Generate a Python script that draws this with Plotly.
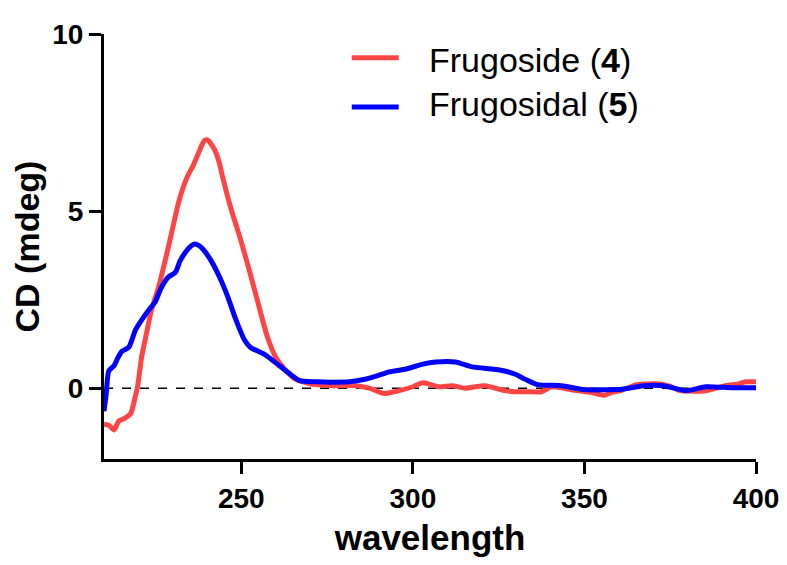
import plotly.graph_objects as go

# Frugoside (4) - red
red_x = [210, 211.5, 212.9, 214.3, 216, 217.8, 218.6, 219.2, 219.8, 221, 222.5, 223.8, 225.9,
         228.7, 231.6, 233, 234.5, 235.8, 236.8, 237.8, 238.6, 239.4, 240.3, 241.3, 242.3,
         243.5, 244.6, 246.9, 249.8, 252.7, 254.5, 256, 257.6, 260, 262.5, 265.4, 270, 276.9,
         283.5, 287.3, 291.6, 296, 300, 302.9, 307.5, 311.5, 315.3, 321, 326.8, 329.7, 333,
         337.5, 340.4, 344, 347.9, 352, 355.7, 358, 360.6, 365.2, 368, 372.1, 375, 377.9,
         385.4, 391.1, 395, 397, 400]
red_y = [-1.02, -1.05, -1.18, -0.93, -0.85, -0.71, -0.45, -0.2, 0.05, 0.9, 1.6, 2.2, 2.85,
         3.96, 5.19, 5.65, 6.02, 6.25, 6.47, 6.7, 6.88, 7.0, 7.0, 6.88, 6.72,
         6.4, 5.95, 5.1, 4.2, 3.2, 2.55, 2.0, 1.45, 0.88, 0.55, 0.28, 0.12, 0.07,
         0.07, 0.0, -0.15, -0.07, 0.04, 0.15, 0.04, 0.07, 0.0, 0.07, -0.07, -0.1, -0.1,
         -0.1, 0.04, 0.0, -0.07, -0.12, -0.2, -0.12, -0.07, 0.1, 0.12, 0.12, 0.05, -0.07,
         -0.07, 0.07, 0.12, 0.18, 0.18]

# Frugosidal (5) - blue
blue_x = [210, 210.6, 211.4, 212.9, 214, 215.2, 217.2, 219.2, 221, 223, 225, 226.5, 228.7,
          230.8, 232.2, 234.5, 235.6, 236.5, 237.6, 238.8, 241.2, 243.7, 246.1, 248.1, 249.8,
          251, 252.7, 256.7, 260.5, 264.2, 267.1, 272, 276, 281.5, 286.4, 290, 293.1, 298,
          302.9, 306.6, 312.4, 317.3, 323.1, 326, 329.7, 332.6, 336.3, 343.3, 349.9, 359.4,
          363, 367.2, 373, 379.6, 385.4, 393.2, 400]
blue_y = [-0.65, -0.2, 0.49, 0.63, 0.85, 1.04, 1.15, 1.65, 1.93, 2.2, 2.45, 2.8, 3.13,
          3.27, 3.6, 3.93, 4.03, 4.07, 4.03, 3.93, 3.6, 3.13, 2.57, 2.02, 1.6,
          1.35, 1.15, 0.96, 0.68, 0.4, 0.21, 0.18, 0.17, 0.18, 0.26, 0.36, 0.46, 0.54,
          0.68, 0.74, 0.74, 0.6, 0.54, 0.5, 0.4, 0.26, 0.1, 0.07, -0.04, -0.04,
          0.0, 0.07, 0.07, -0.07, 0.04, 0.01, 0.01]

x_ticks = [250, 300, 350, 400]
y_ticks = [0, 5, 10]
series_names = ["Frugoside (<b>4</b>)", "Frugosidal (<b>5</b>)"]
RED = "#FF4444"
BLUE = "#0000FF"
FONT = "Liberation Sans, Arial, sans-serif"

fig = go.Figure()
fig.add_trace(go.Scatter(x=red_x, y=red_y, mode="lines", name=series_names[0],
                         line=dict(color=RED, width=5, shape="spline", smoothing=0.6),
                         showlegend=False))
fig.add_trace(go.Scatter(x=blue_x, y=blue_y, mode="lines", name=series_names[1],
                         line=dict(color=BLUE, width=5, shape="spline", smoothing=0.6),
                         showlegend=False))

# zero reference line
fig.add_shape(type="line", xref="x", yref="y", x0=210, x1=400, y0=0, y1=0,
              line=dict(color="black", width=1.5, dash="dash"), layer="below")

# manual legend
legend_y = [0.944, 0.828]
text_y = [0.939, 0.835]
for i, (name, col) in enumerate(zip(series_names, [RED, BLUE])):
    fig.add_shape(type="line", xref="paper", yref="paper", x0=0.380, x1=0.452,
                  y0=legend_y[i], y1=legend_y[i], line=dict(color=col, width=5))
    fig.add_annotation(xref="paper", yref="paper", x=0.495, y=text_y[i], text=name,
                       showarrow=False, xanchor="left", yanchor="middle",
                       font=dict(family=FONT, size=34, color="black"))

fig.update_layout(
    width=771, height=549,
    margin=dict(l=96, r=23, t=26, b=98),
    paper_bgcolor="white", plot_bgcolor="white",
    font=dict(family=FONT, color="black"),
    xaxis=dict(range=[210, 400], tickvals=x_ticks, showgrid=False, zeroline=False,
               showline=True, linecolor="black", linewidth=3, automargin=False,
               ticks="outside", ticklen=12, tickwidth=3, tickcolor="black",
               ticklabeloverflow="allow",
               tickfont=dict(family=FONT, size=28, weight="bold"),
               title=dict(text="wavelength", font=dict(family=FONT, size=35, weight="bold"),
                          standoff=15)),
    yaxis=dict(range=[-2, 10], tickvals=y_ticks, showgrid=False, zeroline=False,
               showline=True, linecolor="black", linewidth=3, automargin=False,
               ticks="outside", ticklen=12, tickwidth=3, tickcolor="black",
               ticklabeloverflow="allow",
               tickfont=dict(family=FONT, size=28, weight="bold"),
               title=dict(text="CD (mdeg)", font=dict(family=FONT, size=34, weight="bold"),
                          standoff=10)),
)

fig.write_html("out.html")
